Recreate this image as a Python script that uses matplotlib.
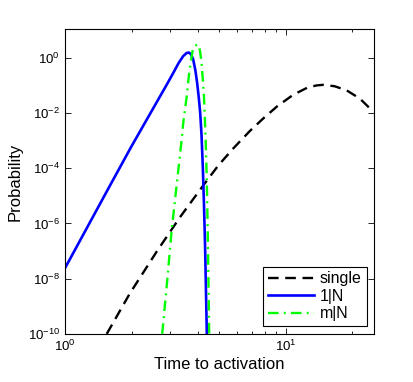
import numpy as np
import matplotlib
matplotlib.use("Agg")
import matplotlib.pyplot as plt
from matplotlib.ticker import LogLocator, FixedLocator, NullLocator

plt.rcParams['font.family'] = ['Liberation Sans', 'DejaVu Sans']

# values (log10 of time, log10 of probability)
single_logt = [0.189, 0.294, 0.415, 0.520, 0.626, 0.694, 0.762, 0.837, 0.897, 0.96,
               1.033, 1.10, 1.14, 1.169, 1.22, 1.275, 1.335, 1.395]
single_logp = [-10.0, -8.53, -7.02, -5.78, -4.62, -3.90, -3.28, -2.65, -2.20, -1.76,
               -1.34, -1.07, -1.00, -0.98, -1.03, -1.18, -1.48, -1.95]

one_logt = [0.0, 0.1, 0.2, 0.3, 0.4, 0.43, 0.46, 0.49, 0.515, 0.535, 0.55, 0.56,
            0.57, 0.58, 0.59, 0.598, 0.605, 0.612, 0.618, 0.624, 0.629, 0.634, 0.638, 0.642]
one_logp = [-7.62, -6.15, -4.68, -3.22, -1.82, -1.40, -0.98, -0.55, -0.18, 0.06, 0.17,
            0.19, 0.13, -0.05, -0.45, -0.9, -1.4, -2.0, -2.8, -4.0, -5.3, -6.8, -8.4, -10.0]

m_logt = [0.440, 0.463, 0.483, 0.508, 0.528, 0.535, 0.551, 0.562, 0.578, 0.588, 0.598,
          0.606, 0.612, 0.618, 0.624, 0.629, 0.634, 0.638, 0.642, 0.645, 0.648, 0.651, 0.653]
m_logp = [-10.0, -8.04, -6.23, -4.42, -2.97, -2.37, -1.40, -0.55, 0.29, 0.42, 0.48,
          0.45, 0.2, -0.19, -0.8, -1.4, -2.4, -3.3, -4.5, -5.8, -7.3, -9.0, -10.2]

labels = ['single', '1|N', 'm|N']

single_t = 10 ** np.array(single_logt)
single_p = 10 ** np.array(single_logp)
one_t = 10 ** np.array(one_logt)
one_p = 10 ** np.array(one_logp)
m_t = 10 ** np.array(m_logt)
m_p = 10 ** np.array(m_logp)

fig = plt.figure(figsize=(4.14, 3.82), dpi=100)
ax = fig.add_axes([0.157, 0.126, 0.746, 0.798])

ax.loglog(single_t, single_p, color='black', lw=1.7, linestyle=(0, (4.5, 2.8)), label=labels[0])
ax.loglog(one_t, one_p, color='#0000ff', lw=1.9, label=labels[1])
ax.loglog(m_t, m_p, color='#00ff00', lw=1.7, linestyle=(0, (4.5, 2.2, 0.8, 2.2)), label=labels[2])

ax.set_xlim(1, 25)
ax.set_ylim(1e-10, 11)
ax.yaxis.set_major_locator(FixedLocator([1e-10, 1e-8, 1e-6, 1e-4, 1e-2, 1e0]))
ax.yaxis.set_minor_locator(NullLocator())
ax.xaxis.set_minor_locator(LogLocator(base=10, subs=np.arange(2, 10)))

ax.tick_params(which='both', direction='in', top=True, right=True, labelsize=9.5)
ax.tick_params(which='major', length=4, width=0.6)
ax.tick_params(which='minor', length=2, width=0.6)
for s in ax.spines.values():
    s.set_linewidth(0.8)

ax.set_xlabel('Time to activation', fontsize=12, labelpad=2)
ax.set_ylabel('Probability', fontsize=12, labelpad=4)

leg = ax.legend(loc='lower right', bbox_to_anchor=(0.977, 0.026), borderaxespad=0,
                fontsize=11.5, handlelength=2.9, handletextpad=0.35, labelspacing=0.15,
                borderpad=0.3, fancybox=False, framealpha=1, edgecolor='black')
leg.get_frame().set_linewidth(0.8)

fig.savefig('out.png', dpi=100)
